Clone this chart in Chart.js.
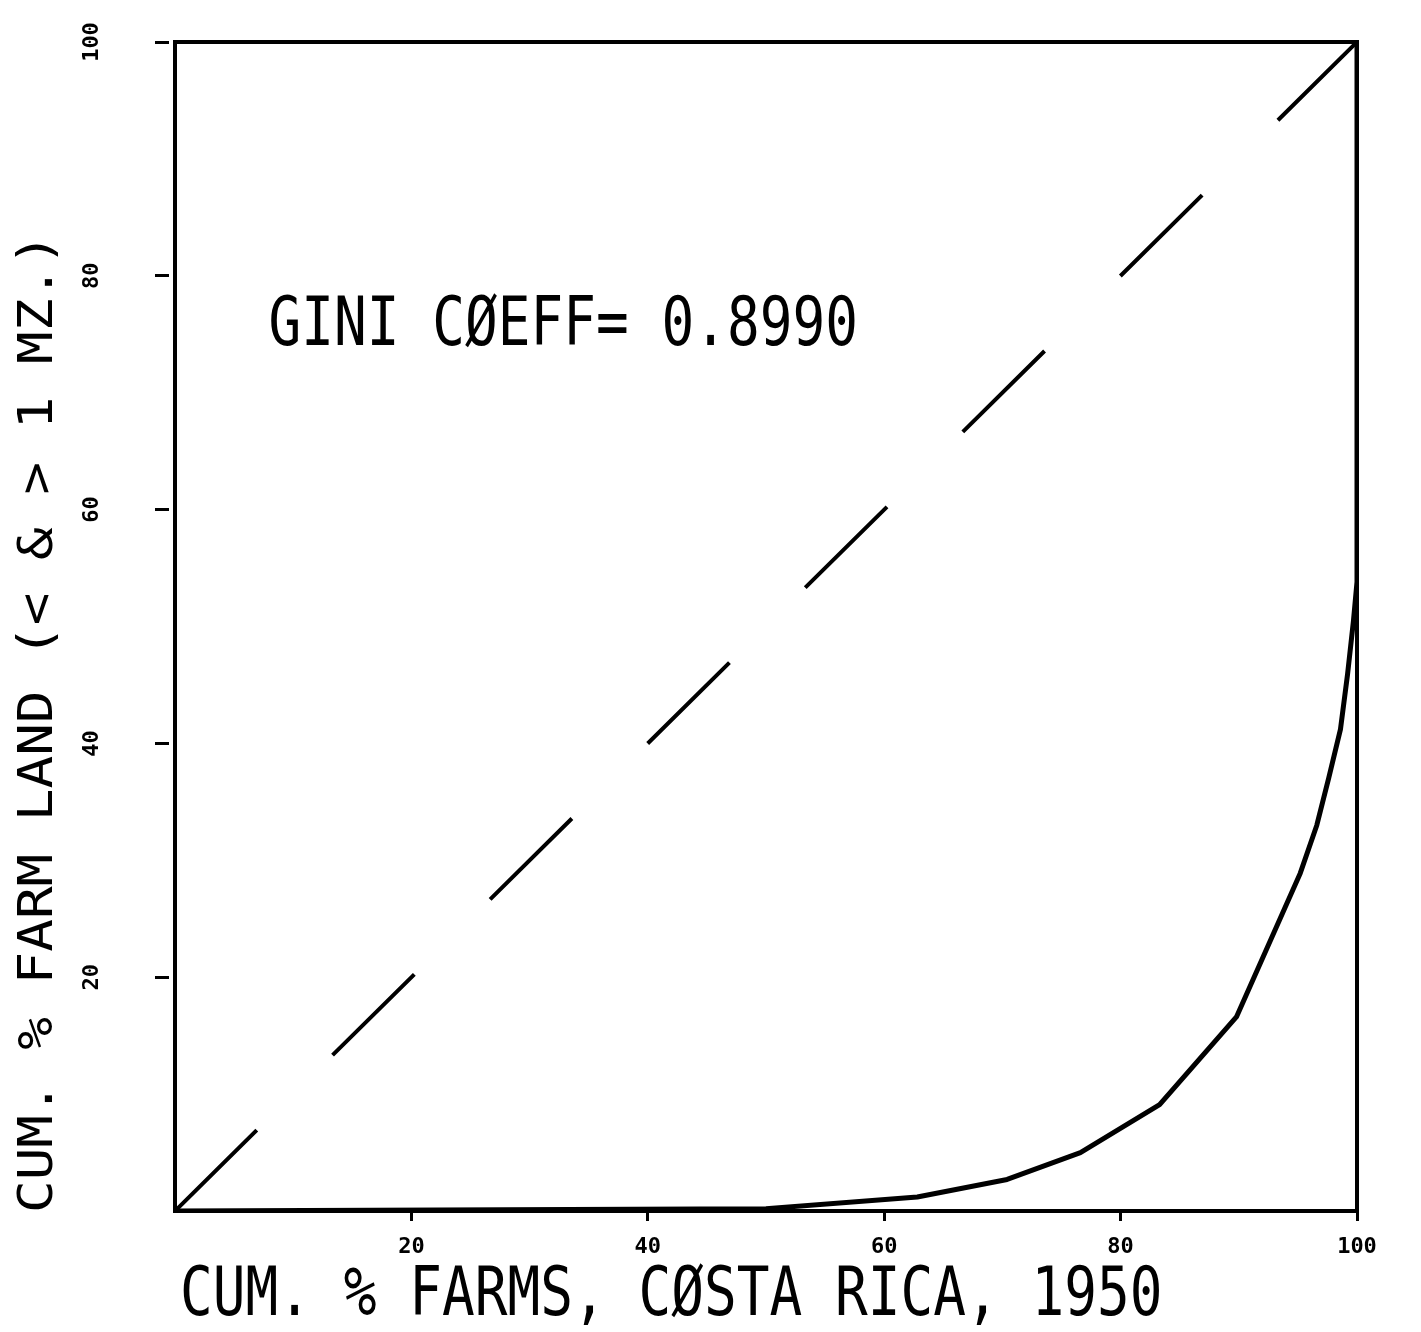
<!DOCTYPE html>
<html>
<head>
<meta charset="utf-8">
<script src="https://cdn.jsdelivr.net/npm/chart.js@4/dist/chart.umd.min.js"></script>
<style>
  html, body { margin: 0; padding: 0; background: #fff; }
  #wrap { width: 1421px; height: 1332px; position: relative; }
</style>
</head>
<body>
<div id="wrap"><canvas id="lorenz"></canvas></div>
<script>
// cumulative % of farms / cumulative % of farm land (Lorenz curve)
let farmsPct = [0, 50, 62.8, 70.4, 76.6, 83.3, 89.8, 95.2, 96.6, 97.6, 98.6, 99.2, 99.7, 100, 100];
let landPct  = [0, 0.2, 1.2, 2.7, 5.0, 9.1, 16.6, 28.9, 33.0, 37.0, 41.2, 45.9, 50.5, 53.8, 100];

// line of perfect equality
let equalX = [0, 100];
let equalY = [0, 100];

let tickValues = [20, 40, 60, 80, 100];

let giniText = 'GINI CØEFF= 0.8990';
let xTitle = 'CUM. % FARMS, CØSTA RICA, 1950';
let yTitle = 'CUM. % FARM LAND (< & > 1 MZ.)';

const mono = '"DejaVu Sans Mono", "Liberation Mono", monospace';

function toPoints(xs, ys) {
  return xs.map((x, i) => ({ x: x, y: ys[i] }));
}

// frame + plotter style texts
const plotterText = {
  id: 'plotterText',
  afterDraw(chart) {
    const ctx = chart.ctx;
    const a = chart.chartArea;
    const sx = chart.scales.x;
    const sy = chart.scales.y;
    ctx.save();
    ctx.strokeStyle = '#000';
    ctx.lineWidth = 4;
    ctx.strokeRect(a.left, a.top, a.right - a.left, a.bottom - a.top);

    ctx.fillStyle = '#000';
    ctx.textAlign = 'left';

    // gini label inside the plot
    ctx.save();
    ctx.font = '68px ' + mono;
    ctx.textBaseline = 'alphabetic';
    ctx.translate(sx.getPixelForValue(7.9), sy.getPixelForValue(74.1));
    ctx.scale(0.8, 1);
    ctx.fillText(giniText, 0, 0);
    ctx.restore();

    // x title
    ctx.save();
    ctx.font = '68px ' + mono;
    ctx.textBaseline = 'alphabetic';
    ctx.translate(a.left + 5, 1315);
    ctx.scale(0.8, 1);
    ctx.fillText(xTitle, 0, 0);
    ctx.restore();

    // y title, reading bottom to top
    ctx.save();
    ctx.font = '48px ' + mono;
    ctx.textBaseline = 'middle';
    ctx.translate(40, a.bottom + 2);
    ctx.rotate(-Math.PI / 2);
    ctx.scale(1.13, 1);
    ctx.fillText(yTitle, 0, 0);
    ctx.restore();

    ctx.restore();
  }
};

Chart.defaults.font.family = mono;
Chart.defaults.color = '#000';

let chart = new Chart(document.querySelector('#lorenz'), {
  type: 'scatter',
  data: {
    datasets: [{
      label: 'Lorenz',
      data: toPoints(farmsPct, landPct),
      showLine: true,
      borderColor: '#000',
      borderWidth: 5,
      pointRadius: 0,
      tension: 0,
      borderJoinStyle: 'round'
    }, {
      label: 'Equality',
      data: toPoints(equalX, equalY),
      showLine: true,
      borderColor: '#000',
      borderWidth: 4,
      borderDash: [115, 106.6],
      pointRadius: 0
    }]
  },
  options: {
    responsive: true,
    maintainAspectRatio: false,
    animation: false,
    layout: { padding: { top: 42, right: 64, left: 0, bottom: 0 } },
    plugins: {
      legend: { display: false },
      tooltip: { enabled: false }
    },
    scales: {
      x: {
        type: 'linear',
        min: 0,
        max: 100,
        afterBuildTicks: s => { s.ticks = tickValues.map(v => ({ value: v })); },
        afterFit: s => { s.height = 121; s.paddingLeft = 0; s.paddingRight = 0; },
        border: { display: false },
        grid: { drawOnChartArea: false, drawTicks: true, tickLength: 10, tickWidth: 3, tickColor: '#000' },
        ticks: { padding: 13, font: { size: 22, weight: 'bold' }, color: '#000', maxRotation: 0 }
      },
      y: {
        type: 'linear',
        min: 0,
        max: 100,
        afterBuildTicks: s => { s.ticks = tickValues.map(v => ({ value: v })); },
        afterFit: s => { s.width = 175; s.paddingTop = 0; s.paddingBottom = 0; },
        border: { display: false },
        grid: { drawOnChartArea: false, drawTicks: true, tickLength: 20, tickWidth: 3, tickColor: '#000', tickBorderDash: [14, 40] },
        ticks: { padding: 43, crossAlign: 'center', minRotation: 90, maxRotation: 90, font: { size: 22, weight: 'bold' }, color: '#000' }
      }
    }
  },
  plugins: [plotterText]
});
</script>
</body>
</html>
